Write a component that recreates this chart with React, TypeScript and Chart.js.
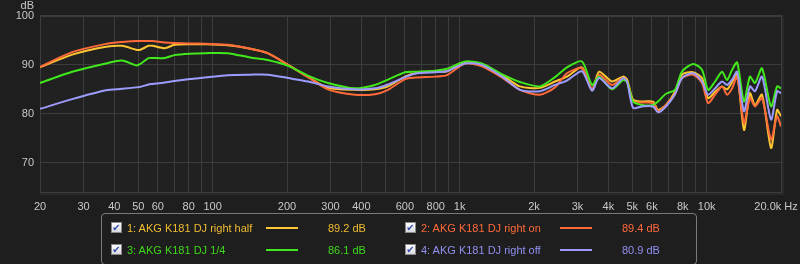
import React, { useEffect, useRef } from 'react';
import { Chart, registerables } from 'chart.js';

Chart.register(...registerables);

// Frequencies (Hz) of the sampled points
const FREQS = [20, 27, 37, 43, 49, 51, 55, 57, 64, 70, 81, 93, 115, 142, 167, 202, 243, 293, 377, 454, 513, 601, 660, 794, 889, 1052, 1230, 1496, 1754, 2114, 2432, 2720, 3128, 3436, 3668, 4138, 4584, 4764, 5036, 5476, 6066, 6356, 6844, 7446, 7940, 8806, 9574, 10134, 10818, 11542, 12098, 12680, 13284, 14166, 14972, 15692, 16752, 18226, 19280, 20000];

// 1: right half
const RIGHT_HALF = [89.5, 92.1, 93.7, 93.9, 93.1, 93.1, 93.9, 93.9, 93.4, 94.1, 94.2, 94.2, 94.0, 93.3, 92.4, 90.0, 87.6, 85.3, 84.9, 85.0, 85.6, 87.6, 88.3, 88.6, 88.7, 90.5, 90.1, 87.8, 85.6, 85.3, 86.6, 87.6, 89.5, 84.9, 88.6, 86.6, 87.6, 87.0, 82.9, 82.5, 82.5, 80.8, 81.8, 84.5, 88.0, 88.5, 87.3, 83.2, 84.5, 85.6, 85.0, 86.5, 88.3, 76.7, 84.2, 81.8, 83.9, 73.0, 80.8, 79.5];
// 2: right on
const RIGHT_ON = [89.6, 92.6, 94.3, 94.7, 94.9, 94.9, 94.9, 94.9, 94.6, 94.5, 94.4, 94.3, 94.1, 93.3, 92.4, 90.0, 87.5, 85.0, 83.9, 84.0, 84.9, 87.1, 87.4, 87.6, 87.9, 90.3, 89.7, 87.3, 84.9, 83.9, 85.4, 88.3, 89.3, 85.0, 88.0, 85.9, 87.3, 86.5, 82.5, 82.3, 82.2, 80.5, 81.8, 84.0, 87.3, 88.0, 86.3, 82.2, 83.9, 85.6, 83.9, 85.2, 87.6, 78.1, 83.2, 81.5, 83.2, 74.7, 79.5, 77.4];
// 3: 1/4
const QUARTER = [86.3, 88.6, 90.3, 90.9, 89.9, 90.2, 91.4, 91.4, 91.4, 92.0, 92.3, 92.4, 92.4, 91.5, 91.0, 89.8, 87.8, 86.3, 85.2, 85.9, 87.0, 88.5, 88.6, 88.8, 89.2, 90.7, 90.3, 88.0, 86.5, 85.6, 87.5, 89.5, 90.7, 85.9, 87.6, 85.0, 86.9, 86.5, 82.5, 81.8, 81.8, 82.5, 84.1, 84.9, 88.6, 90.2, 89.0, 84.9, 86.6, 88.6, 86.9, 89.0, 90.5, 82.5, 87.6, 86.3, 89.3, 81.5, 85.6, 85.2];
// 4: right off
const RIGHT_OFF = [81.0, 83.0, 84.8, 85.1, 85.4, 85.5, 86.0, 86.1, 86.4, 86.7, 87.1, 87.4, 87.9, 88.0, 88.0, 87.3, 86.6, 85.6, 85.0, 85.2, 86.0, 87.5, 88.2, 88.5, 88.7, 90.3, 90.0, 87.5, 84.9, 84.6, 85.9, 86.8, 88.7, 84.7, 87.3, 85.2, 87.3, 86.5, 81.2, 81.5, 81.5, 80.3, 81.5, 84.0, 87.3, 88.3, 86.6, 83.9, 85.2, 86.6, 85.9, 87.0, 88.6, 80.5, 85.6, 84.6, 87.6, 78.8, 84.6, 84.2];

const SERIES_NAMES = ['1: AKG K181 DJ right half', '2: AKG K181 DJ right on', '3: AKG K181 DJ 1/4', '4: AKG K181 DJ right off'];
const SERIES_LEVELS = ['89.2 dB', '89.4 dB', '86.1 dB', '80.9 dB'];
const SERIES_VALUES = [RIGHT_HALF, RIGHT_ON, QUARTER, RIGHT_OFF];
const LINE_COLORS = ['#ffc633', '#ff6a3a', '#40e81c', '#9c9cff'];
const TEXT_COLORS = ['#f0bc30', '#ff6a3a', '#3ed81a', '#9090f0'];
const DRAW_ORDER = [3, 2, 1, 0];

const X_GRID = [20, 30, 40, 50, 60, 70, 80, 90, 100, 200, 300, 400, 500, 600, 700, 800, 900, 1000, 2000, 3000, 4000, 5000, 6000, 7000, 8000, 9000, 10000, 20000];
// The "20.0k Hz" caption sits just left of the 20 kHz edge, on a tick with no grid line
const X_END_LABEL_AT = 19100;
const X_LABELS: Record<number, string> = {
  20: '20', 30: '30', 40: '40', 50: '50', 60: '60', 80: '80', 100: '100', 200: '200', 300: '300', 400: '400',
  600: '600', 800: '800', 1000: '1k', 2000: '2k', 3000: '3k', 4000: '4k', 5000: '5k', 6000: '6k', 8000: '8k',
  10000: '10k', [X_END_LABEL_AT]: '20.0k Hz',
};
const Y_TICKS = [70, 80, 90, 100];
const Y_MIN = 64;
const Y_MAX = 100;

const FONT = '"Liberation Sans", Arial, sans-serif';
const GRID = '#3c3c3c';

const bgPlugin = {
  id: 'bgPlugin',
  beforeDraw(chart: any) {
    const { ctx, chartArea: a } = chart;
    ctx.save();
    ctx.fillStyle = '#1e1e1e';
    ctx.fillRect(0, 0, chart.width, chart.height);
    ctx.fillStyle = '#282828';
    ctx.fillRect(a.left, a.top - 1, a.right - a.left + 3, a.bottom - a.top + 4);
    ctx.fillStyle = '#212121';
    ctx.fillRect(a.left, a.top, a.right - a.left, a.bottom - a.top);
    ctx.restore();
  },
  beforeDatasetsDraw(chart: any) {
    const { ctx, chartArea: a } = chart;
    ctx.save();
    ctx.strokeStyle = GRID;
    ctx.lineWidth = 1;
    ctx.strokeRect(a.left + 0.5, a.top - 0.5, a.right - a.left, a.bottom - a.top + 1);
    ctx.restore();
  },
  afterDraw(chart: any) {
    const { ctx } = chart;
    ctx.save();
    ctx.fillStyle = '#c8c8c8';
    ctx.font = `11px ${FONT}`;
    ctx.textAlign = 'right';
    ctx.textBaseline = 'middle';
    ctx.fillText('dB', 34, 6);
    ctx.restore();
  },
};

function Checkbox({ left, top }: { left: number; top: number }) {
  return (
    <div
      style={{
        position: 'absolute', left, top, width: 11, height: 11, boxSizing: 'border-box',
        border: '1px solid #8a8a8a', background: 'linear-gradient(#ffffff, #d8d8e0)',
        color: '#3550a8', fontSize: 10, lineHeight: '10px', textAlign: 'center', fontWeight: 'bold',
        fontFamily: '"DejaVu Sans", sans-serif',
      }}
    >
      ✔
    </div>
  );
}

export default function App() {
  const canvasRef = useRef<HTMLCanvasElement | null>(null);

  useEffect(() => {
    if (!canvasRef.current) return;
    const datasets = SERIES_VALUES.map((vals, i) => ({
      label: SERIES_NAMES[i],
      data: FREQS.map((f, k) => ({ x: f, y: vals[k] })),
      borderColor: LINE_COLORS[i],
      backgroundColor: LINE_COLORS[i],
      borderWidth: 2,
      pointRadius: 0,
      tension: 0.25,
      fill: false,
      order: DRAW_ORDER[i],
    }));
    const xTicks = [...X_GRID, X_END_LABEL_AT].sort((a, b) => a - b);
    const chart = new Chart(canvasRef.current, {
      type: 'line',
      data: { datasets },
      plugins: [bgPlugin],
      options: {
        animation: false,
        responsive: false,
        maintainAspectRatio: false,
        layout: { padding: { top: 16, right: 19, left: 0, bottom: 0 } },
        plugins: { legend: { display: false }, tooltip: { enabled: false } },
        scales: {
          x: {
            type: 'logarithmic',
            min: 20,
            max: 20000,
            afterBuildTicks: (scale: any) => {
              scale.ticks = xTicks.map((v) => ({ value: v }));
            },
            afterFit: (scale: any) => {
              scale.height = 72;
              scale.paddingLeft = 0;
              scale.paddingRight = 0;
            },
            grid: {
              color: (c: any) => (c.tick && c.tick.value === X_END_LABEL_AT ? 'rgba(0,0,0,0)' : GRID),
              drawTicks: false,
              lineWidth: 1,
            },
            border: { display: false },
            ticks: {
              autoSkip: false,
              maxRotation: 0,
              minRotation: 0,
              padding: 8,
              color: '#c8c8c8',
              font: { family: FONT, size: 11 },
              callback: (v: any) => X_LABELS[Number(v)] ?? '',
            },
          },
          y: {
            type: 'linear',
            min: Y_MIN,
            max: Y_MAX,
            afterBuildTicks: (scale: any) => {
              scale.ticks = Y_TICKS.map((v) => ({ value: v }));
            },
            afterFit: (scale: any) => {
              scale.width = 40;
              scale.paddingTop = 0;
              scale.paddingBottom = 0;
            },
            grid: { color: GRID, drawTicks: false, lineWidth: 1 },
            border: { display: false },
            ticks: {
              padding: 6,
              color: '#c8c8c8',
              font: { family: FONT, size: 11 },
              callback: (v: any) => String(v),
            },
          },
        },
      },
    });
    return () => chart.destroy();
  }, []);

  const cols = [
    { box: 111, text: 127, line: 266, lineW: 32, value: 328 },
    { box: 405, text: 421, line: 560, lineW: 32, value: 622 },
  ];
  const rows = [227.5, 249.5];
  const layoutIdx = [
    { c: 0, r: 0 },
    { c: 1, r: 0 },
    { c: 0, r: 1 },
    { c: 1, r: 1 },
  ];

  return (
    <div style={{ position: 'fixed', left: 0, top: 0, width: 800, height: 264, background: '#1e1e1e', overflow: 'hidden' }}>
      <canvas ref={canvasRef} width={800} height={264} style={{ position: 'absolute', left: 0, top: 0, width: 800, height: 264 }} />
      <div
        style={{
          position: 'absolute', left: 101, top: 213, width: 596, height: 52, boxSizing: 'border-box',
          border: '1px solid #7a7a7a', borderRadius: 4,
        }}
      />
      {SERIES_NAMES.map((name, i) => {
        const { c, r } = layoutIdx[i];
        const col = cols[c];
        const cy = rows[r];
        return (
          <React.Fragment key={name}>
            <Checkbox left={col.box} top={cy - 5.5} />
            <div
              style={{
                position: 'absolute', left: col.text, top: cy - 7, height: 14, lineHeight: '14px',
                fontFamily: FONT, fontSize: 11, color: TEXT_COLORS[i], whiteSpace: 'nowrap',
              }}
            >
              {name}
            </div>
            <div style={{ position: 'absolute', left: col.line, top: cy - 1, width: col.lineW, height: 2, background: LINE_COLORS[i] }} />
            <div
              style={{
                position: 'absolute', left: col.value, top: cy - 7, height: 14, lineHeight: '14px',
                fontFamily: FONT, fontSize: 11, color: TEXT_COLORS[i], whiteSpace: 'nowrap',
              }}
            >
              {SERIES_LEVELS[i]}
            </div>
          </React.Fragment>
        );
      })}
    </div>
  );
}
